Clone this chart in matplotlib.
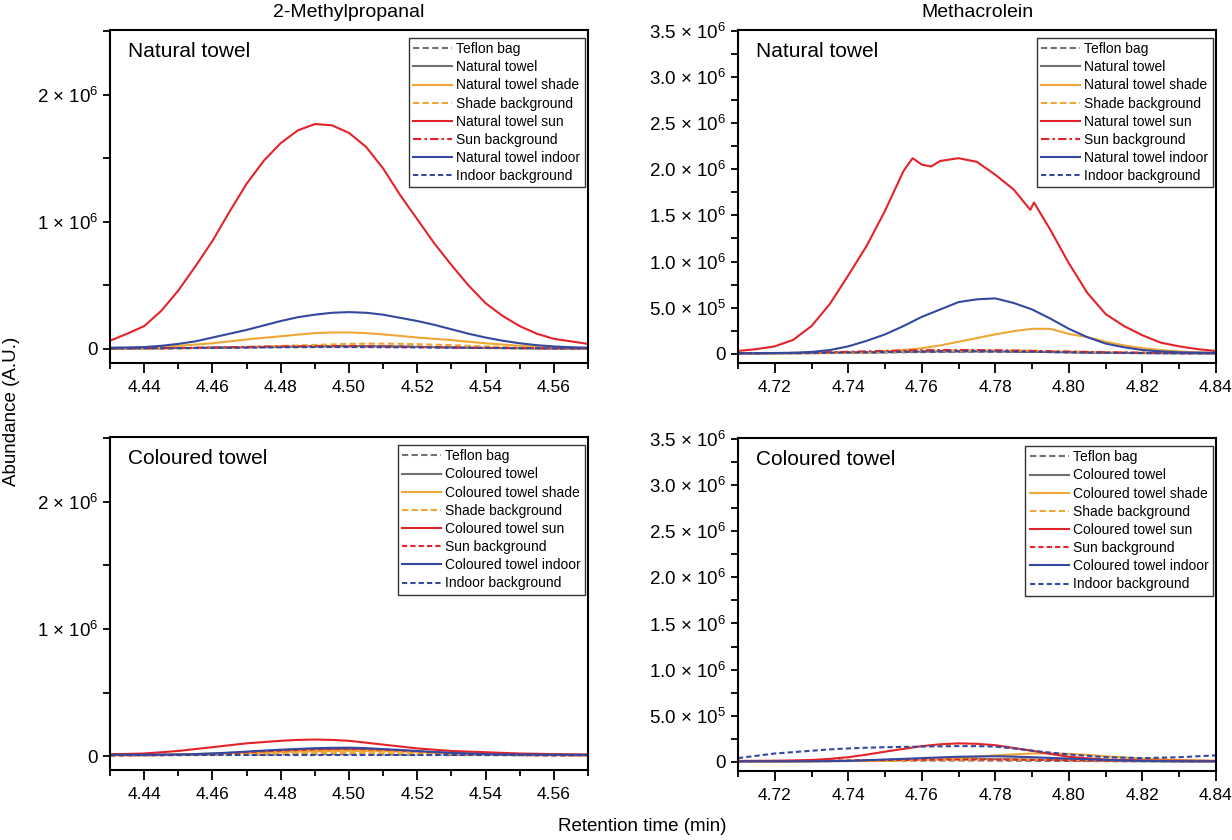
import matplotlib
matplotlib.use("Agg")
import matplotlib.pyplot as plt
from matplotlib.ticker import MultipleLocator, FuncFormatter

plt.rcParams["font.family"] = ["Liberation Sans", "DejaVu Sans"]
plt.rcParams["mathtext.fontset"] = "custom"
plt.rcParams["mathtext.rm"] = "Liberation Sans"
plt.rcParams["mathtext.it"] = "Liberation Sans:italic"

# tiempos de retencion (min)
x_izq = [4.430, 4.435, 4.440, 4.445, 4.450, 4.455, 4.460, 4.465, 4.470, 4.475,
         4.480, 4.485, 4.490, 4.495, 4.500, 4.505, 4.510, 4.515, 4.520, 4.525,
         4.530, 4.535, 4.540, 4.545, 4.550, 4.555, 4.560, 4.565, 4.570]
x_der = [4.710, 4.715, 4.720, 4.725, 4.730, 4.735, 4.740, 4.745, 4.750, 4.755,
         4.760, 4.765, 4.770, 4.775, 4.780, 4.785, 4.790, 4.795, 4.800, 4.805,
         4.810, 4.815, 4.820, 4.825, 4.830, 4.835, 4.840]

# 2-Methylpropanal, natural towel (abundancia en millones)
mp_nat_teflon = [0.004, 0.004, 0.005, 0.005, 0.006, 0.007, 0.008, 0.010, 0.012, 0.014,
                 0.016, 0.018, 0.020, 0.022, 0.024, 0.024, 0.023, 0.021, 0.019, 0.016,
                 0.014, 0.012, 0.010, 0.008, 0.007, 0.006, 0.005, 0.004, 0.004]
mp_nat_towel = [0.004, 0.004, 0.005, 0.006, 0.007, 0.008, 0.010, 0.012, 0.014, 0.016,
                0.018, 0.020, 0.021, 0.022, 0.022, 0.021, 0.020, 0.018, 0.016, 0.014,
                0.012, 0.010, 0.008, 0.007, 0.006, 0.005, 0.004, 0.004, 0.004]
mp_nat_shade = [0.005, 0.007, 0.010, 0.016, 0.025, 0.035, 0.045, 0.060, 0.075, 0.088,
                0.100, 0.113, 0.125, 0.130, 0.130, 0.125, 0.115, 0.103, 0.090, 0.080,
                0.070, 0.057, 0.045, 0.035, 0.025, 0.018, 0.012, 0.008, 0.006]
mp_nat_shade_bg = [0.003, 0.003, 0.004, 0.005, 0.006, 0.008, 0.010, 0.013, 0.016, 0.020,
                   0.024, 0.028, 0.032, 0.036, 0.040, 0.042, 0.042, 0.041, 0.038, 0.034,
                   0.030, 0.025, 0.020, 0.015, 0.011, 0.008, 0.006, 0.004, 0.003]
mp_nat_sun = [0.065, 0.12, 0.18, 0.30, 0.46, 0.65, 0.85, 1.08, 1.30, 1.48,
              1.62, 1.72, 1.77, 1.76, 1.70, 1.59, 1.42, 1.21, 1.02, 0.83,
              0.66, 0.50, 0.36, 0.26, 0.18, 0.12, 0.08, 0.06, 0.04]
mp_nat_sun_bg = [0.004, 0.005, 0.006, 0.007, 0.008, 0.010, 0.012, 0.014, 0.016, 0.018,
                 0.020, 0.021, 0.022, 0.022, 0.022, 0.021, 0.020, 0.018, 0.016, 0.014,
                 0.012, 0.010, 0.009, 0.008, 0.007, 0.006, 0.005, 0.005, 0.004]
mp_nat_indoor = [0.010, 0.012, 0.015, 0.025, 0.040, 0.060, 0.090, 0.120, 0.150, 0.185,
                 0.220, 0.250, 0.270, 0.285, 0.290, 0.285, 0.270, 0.245, 0.220, 0.190,
                 0.155, 0.120, 0.090, 0.065, 0.045, 0.030, 0.020, 0.014, 0.010]
mp_nat_indoor_bg = [0.005, 0.005, 0.006, 0.006, 0.007, 0.008, 0.009, 0.010, 0.011, 0.012,
                    0.013, 0.014, 0.015, 0.015, 0.015, 0.015, 0.014, 0.013, 0.012, 0.011,
                    0.010, 0.009, 0.008, 0.007, 0.006, 0.006, 0.005, 0.005, 0.005]

# 2-Methylpropanal, coloured towel
mp_col_teflon = [0.006, 0.006, 0.006, 0.007, 0.007, 0.008, 0.009, 0.010, 0.011, 0.012,
                 0.013, 0.014, 0.014, 0.014, 0.014, 0.013, 0.012, 0.011, 0.010, 0.009,
                 0.008, 0.008, 0.007, 0.007, 0.006, 0.006, 0.006, 0.006, 0.006]
mp_col_towel = [0.008, 0.009, 0.010, 0.011, 0.013, 0.016, 0.020, 0.025, 0.031, 0.038,
                0.044, 0.049, 0.053, 0.055, 0.055, 0.052, 0.047, 0.041, 0.034, 0.028,
                0.022, 0.018, 0.014, 0.012, 0.010, 0.009, 0.008, 0.008, 0.008]
mp_col_shade = [0.008, 0.008, 0.009, 0.010, 0.012, 0.014, 0.017, 0.020, 0.024, 0.028,
                0.032, 0.035, 0.038, 0.040, 0.041, 0.040, 0.038, 0.035, 0.031, 0.027,
                0.024, 0.021, 0.018, 0.016, 0.014, 0.012, 0.011, 0.010, 0.010]
mp_col_shade_bg = [0.005, 0.005, 0.006, 0.007, 0.008, 0.010, 0.012, 0.014, 0.016, 0.018,
                   0.020, 0.022, 0.023, 0.024, 0.024, 0.023, 0.022, 0.020, 0.018, 0.016,
                   0.014, 0.012, 0.010, 0.009, 0.008, 0.007, 0.006, 0.006, 0.005]
mp_col_sun = [0.015, 0.017, 0.020, 0.030, 0.040, 0.055, 0.070, 0.085, 0.100, 0.110,
              0.120, 0.127, 0.130, 0.127, 0.120, 0.105, 0.090, 0.075, 0.060, 0.050,
              0.040, 0.035, 0.030, 0.025, 0.020, 0.018, 0.015, 0.013, 0.012]
mp_col_sun_bg = [0.005, 0.005, 0.006, 0.007, 0.009, 0.012, 0.016, 0.022, 0.030, 0.037,
                 0.043, 0.048, 0.052, 0.055, 0.056, 0.054, 0.050, 0.044, 0.037, 0.030,
                 0.023, 0.017, 0.012, 0.009, 0.007, 0.006, 0.005, 0.005, 0.005]
mp_col_indoor = [0.010, 0.010, 0.010, 0.011, 0.012, 0.015, 0.020, 0.027, 0.035, 0.043,
                 0.050, 0.056, 0.062, 0.065, 0.066, 0.062, 0.055, 0.048, 0.040, 0.032,
                 0.025, 0.020, 0.015, 0.013, 0.012, 0.011, 0.010, 0.010, 0.010]
mp_col_indoor_bg = [0.006, 0.006, 0.006, 0.006, 0.006, 0.006, 0.006, 0.006, 0.006, 0.006,
                    0.006, 0.006, 0.006, 0.006, 0.006, 0.006, 0.006, 0.006, 0.006, 0.006,
                    0.006, 0.006, 0.006, 0.006, 0.006, 0.006, 0.006, 0.006, 0.006]

# Methacrolein, natural towel
x_ma_sol = [4.710, 4.715, 4.720, 4.725, 4.730, 4.735, 4.740, 4.745, 4.750, 4.755,
            4.7575, 4.760, 4.7625, 4.765, 4.770, 4.775, 4.780, 4.785, 4.7895, 4.7905,
            4.795, 4.800, 4.805, 4.810, 4.815, 4.820, 4.825, 4.830, 4.835, 4.840]
ma_nat_sun = [0.03, 0.05, 0.08, 0.15, 0.30, 0.54, 0.85, 1.17, 1.55, 1.98,
              2.12, 2.05, 2.03, 2.09, 2.12, 2.08, 1.94, 1.78, 1.56, 1.64,
              1.34, 0.98, 0.66, 0.43, 0.30, 0.20, 0.12, 0.08, 0.05, 0.03]
ma_nat_teflon = [0.004, 0.004, 0.005, 0.006, 0.007, 0.008, 0.010, 0.012, 0.014, 0.016,
                 0.018, 0.020, 0.021, 0.022, 0.022, 0.021, 0.020, 0.018, 0.016, 0.014,
                 0.012, 0.010, 0.008, 0.007, 0.006, 0.005, 0.004]
ma_nat_towel = [0.004, 0.004, 0.005, 0.006, 0.007, 0.009, 0.011, 0.014, 0.017, 0.020,
                0.023, 0.025, 0.026, 0.026, 0.025, 0.023, 0.021, 0.018, 0.015, 0.012,
                0.010, 0.008, 0.007, 0.006, 0.005, 0.004, 0.004]
ma_nat_shade = [0.003, 0.003, 0.004, 0.005, 0.006, 0.008, 0.010, 0.015, 0.025, 0.040,
                0.060, 0.090, 0.130, 0.170, 0.210, 0.245, 0.270, 0.270, 0.215, 0.180,
                0.130, 0.090, 0.060, 0.040, 0.025, 0.015, 0.010]
ma_nat_shade_bg = [0.004, 0.005, 0.006, 0.007, 0.009, 0.011, 0.014, 0.017, 0.021, 0.025,
                   0.029, 0.032, 0.034, 0.035, 0.035, 0.034, 0.032, 0.029, 0.025, 0.021,
                   0.017, 0.014, 0.011, 0.009, 0.007, 0.006, 0.005]
ma_nat_sun_bg = [0.005, 0.006, 0.008, 0.010, 0.013, 0.017, 0.021, 0.026, 0.031, 0.035,
                 0.038, 0.040, 0.041, 0.040, 0.038, 0.035, 0.031, 0.027, 0.023, 0.019,
                 0.016, 0.013, 0.011, 0.009, 0.008, 0.007, 0.006]
ma_nat_indoor = [0.005, 0.005, 0.008, 0.010, 0.020, 0.040, 0.080, 0.140, 0.210, 0.300,
                 0.400, 0.480, 0.560, 0.590, 0.600, 0.550, 0.480, 0.380, 0.270, 0.180,
                 0.110, 0.070, 0.040, 0.025, 0.015, 0.012, 0.010]
ma_nat_indoor_bg = [0.004, 0.005, 0.006, 0.007, 0.009, 0.011, 0.013, 0.016, 0.019, 0.022,
                    0.024, 0.026, 0.027, 0.027, 0.026, 0.024, 0.022, 0.019, 0.016, 0.013,
                    0.011, 0.009, 0.007, 0.006, 0.005, 0.005, 0.004]

# Methacrolein, coloured towel
ma_col_teflon = [0.005, 0.005, 0.006, 0.006, 0.007, 0.008, 0.009, 0.010, 0.011, 0.012,
                 0.013, 0.014, 0.014, 0.014, 0.013, 0.012, 0.011, 0.010, 0.009, 0.008,
                 0.007, 0.006, 0.006, 0.005, 0.005, 0.005, 0.005]
ma_col_towel = [0.005, 0.005, 0.005, 0.006, 0.007, 0.008, 0.010, 0.013, 0.017, 0.021,
                0.025, 0.028, 0.030, 0.030, 0.029, 0.027, 0.024, 0.020, 0.017, 0.014,
                0.011, 0.009, 0.007, 0.006, 0.005, 0.005, 0.005]
ma_col_shade = [0.005, 0.005, 0.005, 0.005, 0.006, 0.007, 0.008, 0.009, 0.010, 0.015,
                0.020, 0.030, 0.040, 0.055, 0.070, 0.080, 0.090, 0.092, 0.085, 0.075,
                0.060, 0.048, 0.035, 0.027, 0.020, 0.015, 0.010]
ma_col_shade_bg = [0.004, 0.005, 0.006, 0.007, 0.008, 0.010, 0.012, 0.014, 0.016, 0.018,
                   0.020, 0.022, 0.023, 0.024, 0.024, 0.024, 0.023, 0.021, 0.019, 0.016,
                   0.013, 0.011, 0.009, 0.007, 0.006, 0.005, 0.005]
ma_col_sun = [0.010, 0.011, 0.012, 0.015, 0.020, 0.032, 0.050, 0.078, 0.110, 0.140,
              0.170, 0.190, 0.200, 0.195, 0.180, 0.150, 0.120, 0.085, 0.055, 0.038,
              0.025, 0.020, 0.015, 0.013, 0.012, 0.011, 0.010]
ma_col_sun_bg = [0.006, 0.007, 0.008, 0.009, 0.011, 0.013, 0.015, 0.017, 0.019, 0.021,
                 0.023, 0.024, 0.025, 0.025, 0.024, 0.023, 0.021, 0.019, 0.017, 0.015,
                 0.013, 0.011, 0.010, 0.009, 0.008, 0.007, 0.007]
ma_col_indoor = [0.005, 0.005, 0.005, 0.005, 0.006, 0.008, 0.010, 0.017, 0.025, 0.032,
                 0.040, 0.048, 0.055, 0.058, 0.060, 0.056, 0.050, 0.042, 0.035, 0.027,
                 0.020, 0.015, 0.010, 0.008, 0.006, 0.005, 0.005]
ma_col_indoor_bg = [0.040, 0.065, 0.090, 0.105, 0.120, 0.135, 0.145, 0.153, 0.158, 0.162,
                    0.165, 0.168, 0.170, 0.170, 0.165, 0.145, 0.120, 0.100, 0.080, 0.065,
                    0.050, 0.045, 0.040, 0.045, 0.050, 0.060, 0.070]

nombres_nat = ["Teflon bag", "Natural towel", "Natural towel shade", "Shade background",
               "Natural towel sun", "Sun background", "Natural towel indoor", "Indoor background"]
nombres_col = ["Teflon bag", "Coloured towel", "Coloured towel shade", "Shade background",
               "Coloured towel sun", "Sun background", "Coloured towel indoor", "Indoor background"]

GRIS = "#707070"
NARANJA = "#eea735"
ROJO = "#e3232a"
AZUL = "#3548a0"

estilos_nat = [(GRIS, (0, (3, 1.6))), (GRIS, "-"), (NARANJA, "-"), (NARANJA, (0, (3, 1.6))),
               (ROJO, "-"), (ROJO, (0, (4, 1.5, 1.2, 1.5))), (AZUL, "-"), (AZUL, (0, (2.5, 1.5)))]
estilos_col = [(GRIS, (0, (3, 1.6))), (GRIS, "-"), (NARANJA, "-"), (NARANJA, (0, (3, 1.6))),
               (ROJO, "-"), (ROJO, (0, (2.5, 1.5))), (AZUL, "-"), (AZUL, (0, (2.5, 1.5)))]


def formato_entero(v, pos):
    if abs(v) < 1:
        return "0"
    return "%d × 10$^{6}$" % round(v / 1e6)


def formato_decimal(v, pos):
    if abs(v) < 1:
        return "0"
    if v < 1e6:
        return "%.1f × 10$^{5}$" % (v / 1e5)
    return "%.1f × 10$^{6}$" % (v / 1e6)


def graficar_panel(ax, x_lista, series, nombres, estilos, texto, izquierda):
    for (xs, ys), nombre, (color, ls) in zip(series, nombres, estilos):
        ax.plot(xs, [v * 1e6 for v in ys], color=color, linestyle=ls, lw=1.5, label=nombre)

    if izquierda:
        ax.set_xlim(4.43, 4.57)
        ax.set_ylim(-0.11e6, 2.51e6)
        ax.yaxis.set_major_locator(MultipleLocator(1e6))
        ax.yaxis.set_minor_locator(MultipleLocator(0.5e6))
        ax.yaxis.set_major_formatter(FuncFormatter(formato_entero))
    else:
        ax.set_xlim(4.71, 4.84)
        ax.set_ylim(-0.1e6, 3.51e6)
        ax.yaxis.set_major_locator(MultipleLocator(0.5e6))
        ax.yaxis.set_minor_locator(MultipleLocator(0.25e6))
        ax.yaxis.set_major_formatter(FuncFormatter(formato_decimal))
    ax.xaxis.set_major_locator(MultipleLocator(0.02))
    ax.xaxis.set_minor_locator(MultipleLocator(0.01))
    ax.xaxis.set_major_formatter(FuncFormatter(lambda v, p: "%.2f" % v))

    ax.tick_params(axis="both", which="major", direction="out", width=1.3)
    ax.tick_params(axis="x", which="major", length=7, pad=5, labelsize=12.5)
    ax.tick_params(axis="x", which="minor", length=4, width=1.3)
    ax.tick_params(axis="y", which="both", length=5, width=1.3)
    ax.tick_params(axis="y", which="major", labelsize=13.5)
    for lado in ax.spines.values():
        lado.set_linewidth(1.5)

    ax.text(0.038, 0.965, texto, transform=ax.transAxes, fontsize=15, va="top", ha="left")
    leg = ax.legend(loc="upper right", bbox_to_anchor=(0.993, 0.976), borderaxespad=0,
                    fontsize=10, frameon=True, fancybox=False, handlelength=2.8,
                    handletextpad=0.3, labelspacing=0.3, borderpad=0.3)
    leg.get_frame().set_edgecolor("black")
    leg.get_frame().set_linewidth(1.0)


fig = plt.figure(figsize=(12.32, 8.4), dpi=100)
ax1 = fig.add_axes([0.0893, 0.5679, 0.388, 0.3964])
ax2 = fig.add_axes([0.5990, 0.5679, 0.388, 0.3964])
ax3 = fig.add_axes([0.0893, 0.0833, 0.388, 0.3964])
ax4 = fig.add_axes([0.5990, 0.0821, 0.388, 0.3964])

series1 = [(x_izq, mp_nat_teflon), (x_izq, mp_nat_towel), (x_izq, mp_nat_shade),
           (x_izq, mp_nat_shade_bg), (x_izq, mp_nat_sun), (x_izq, mp_nat_sun_bg),
           (x_izq, mp_nat_indoor), (x_izq, mp_nat_indoor_bg)]
series2 = [(x_der, ma_nat_teflon), (x_der, ma_nat_towel), (x_der, ma_nat_shade),
           (x_der, ma_nat_shade_bg), (x_ma_sol, ma_nat_sun), (x_der, ma_nat_sun_bg),
           (x_der, ma_nat_indoor), (x_der, ma_nat_indoor_bg)]
series3 = [(x_izq, mp_col_teflon), (x_izq, mp_col_towel), (x_izq, mp_col_shade),
           (x_izq, mp_col_shade_bg), (x_izq, mp_col_sun), (x_izq, mp_col_sun_bg),
           (x_izq, mp_col_indoor), (x_izq, mp_col_indoor_bg)]
series4 = [(x_der, ma_col_teflon), (x_der, ma_col_towel), (x_der, ma_col_shade),
           (x_der, ma_col_shade_bg), (x_der, ma_col_sun), (x_der, ma_col_sun_bg),
           (x_der, ma_col_indoor), (x_der, ma_col_indoor_bg)]

graficar_panel(ax1, x_izq, series1, nombres_nat, estilos_nat, "Natural towel", True)
graficar_panel(ax2, x_der, series2, nombres_nat, estilos_nat, "Natural towel", False)
graficar_panel(ax3, x_izq, series3, nombres_col, estilos_col, "Coloured towel", True)
graficar_panel(ax4, x_der, series4, nombres_col, estilos_col, "Coloured towel", False)

ax1.set_title("2-Methylpropanal", fontsize=14, pad=9)
ax2.set_title("Methacrolein", fontsize=14, pad=9)

fig.text(0.009, 0.51, "Abundance (A.U.)", rotation=90, fontsize=13.5, ha="center", va="center")
fig.text(642 / 1232, 0.006, "Retention time (min)", fontsize=13.5, ha="center", va="bottom")

fig.savefig("out.png", dpi=100)
plt.close(fig)
